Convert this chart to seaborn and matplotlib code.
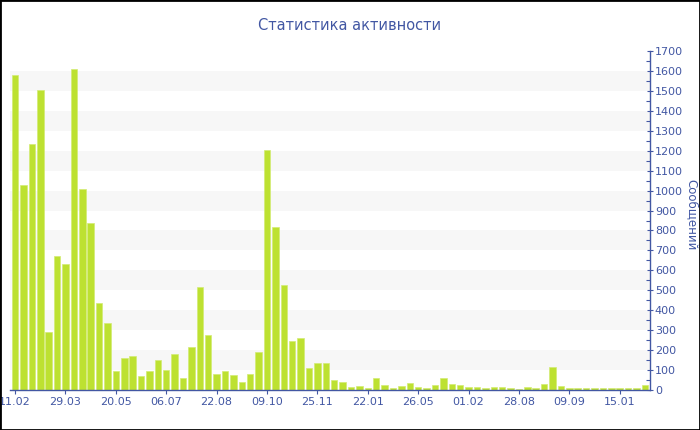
import numpy as np
import pandas as pd
import matplotlib
matplotlib.use("Agg")
import matplotlib.pyplot as plt
import seaborn as sns
from matplotlib.patches import Rectangle
from matplotlib.ticker import MultipleLocator

# Data (messages per period)
counts = [1580, 1028, 1234, 1505, 289, 672, 630, 1608, 1006, 836,
          435, 334, 97, 162, 170, 70, 97, 149, 100, 180,
          60, 217, 515, 274, 79, 95, 77, 42, 80, 192,
          1204, 817, 527, 244, 261, 109, 137, 135, 52, 40,
          17, 20, 10, 60, 25, 12, 18, 33, 15, 12,
          25, 62, 32, 25, 15, 17, 10, 15, 17, 8,
          7, 15, 10, 30, 117, 18, 10, 8, 8, 8,
          8, 8, 8, 8, 12, 23]
tick_labels = ["11.02", "29.03", "20.05", "06.07", "22.08", "09.10", "25.11",
               "22.01", "26.05", "01.02", "28.08", "09.09", "15.01"]
tick_step = 6

title = "Статистика активности"
ylabel = "Сообщений"

text_color = "#4257a3"
bar_color = "#bde131"

sns.set_theme(style="white")
plt.rcParams["font.family"] = ["DejaVu Sans"]

df = pd.DataFrame({"idx": np.arange(len(counts)), "count": counts})

fig = plt.figure(figsize=(7, 4.3), dpi=100)
ax = fig.add_axes([10 / 700, 40 / 430, 640 / 700, 339 / 430])

# light striped background bands
for lo in range(100, 1700, 200):
    ax.axhspan(lo, lo + 100, color="#f7f7f7", zorder=0, lw=0)

sns.barplot(data=df, x="idx", y="count", color=bar_color, saturation=1,
            width=0.78, edgecolor="#d3ec74", linewidth=0.5, ax=ax, zorder=2)

ax.set_xlim(-0.6, len(counts) - 0.4)
ax.set_ylim(0, 1700)
ax.set_xticks(np.arange(0, len(counts), tick_step)[:len(tick_labels)])
ax.set_xticklabels(tick_labels)
ax.set_xlabel("")
ax.set_ylabel("")

ax.yaxis.tick_right()
ax.yaxis.set_major_locator(MultipleLocator(100))
ax.yaxis.set_minor_locator(MultipleLocator(50))

for side in ["top", "left"]:
    ax.spines[side].set_visible(False)
for side in ["right", "bottom"]:
    ax.spines[side].set_visible(True)
    ax.spines[side].set_color(text_color)
    ax.spines[side].set_linewidth(1)

ax.tick_params(axis="y", which="major", direction="inout", length=5, width=0.8,
               color=text_color, labelcolor=text_color, labelsize=8, pad=1,
               right=True, left=False)
ax.tick_params(axis="y", which="minor", direction="in", length=3, width=0.8,
               color=text_color, right=True, left=False)
ax.tick_params(axis="x", which="major", direction="out", length=3, width=0.8,
               color=text_color, labelcolor=text_color, labelsize=8, pad=2,
               bottom=True)
ax.grid(False)

fig.text(350 / 700, 1 - 25 / 430, title, ha="center", va="center",
         color=text_color, fontsize=10.5)
fig.text(685 / 700, 1 - 215 / 430, ylabel, rotation=270, ha="left",
         va="center", color=text_color, fontsize=8.5)

# black frame around the picture
fig.patches.append(Rectangle((0, 0), 1, 1, transform=fig.transFigure,
                             fill=False, edgecolor="black", linewidth=2))

fig.savefig("out.png", dpi=100)
